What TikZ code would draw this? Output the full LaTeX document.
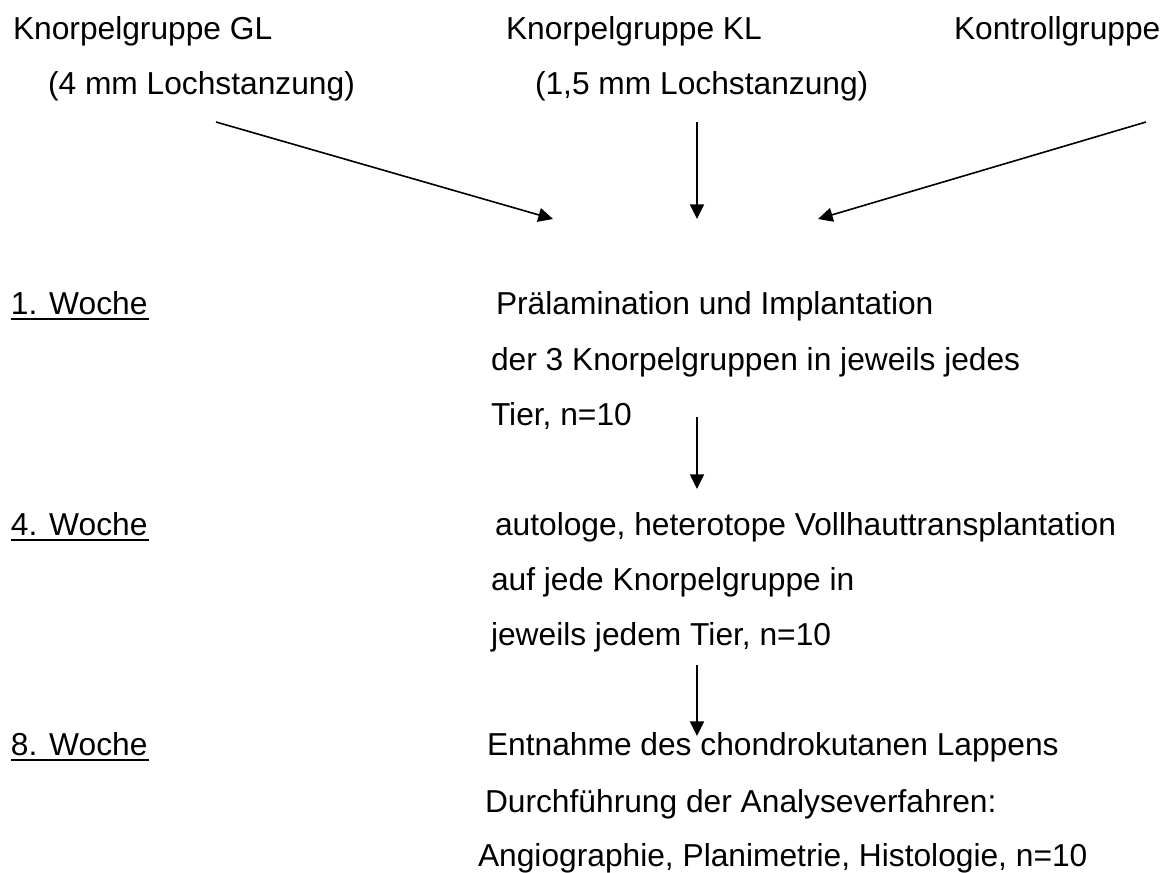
\documentclass[tikz,border=0pt]{standalone}
\usepackage{fontspec}
\setmainfont{Liberation Sans}
\usetikzlibrary{arrows.meta}
\begin{document}
\begin{tikzpicture}[x=0.75pt,y=-0.75pt,
  txt/.style={anchor=base west,inner sep=0pt,outer sep=0pt,font=\fontsize{23.8}{28}\selectfont},
  arr/.style={line width=1.2pt,-{Triangle[length=11pt,width=10.5pt]}},
  uline/.style={line width=1.5pt}]
\useasboundingbox (0,0) rectangle (1173,872);
% top groups
\node[txt] (gl)  at (13,39)  {Knorpelgruppe GL};
\node[txt] (kl)  at (506,39) {Knorpelgruppe KL};
\node[txt] (ko)  at (954,39) {Kontrollgruppe};
\node[txt] (gl2) at (48,94)  {(4 mm Lochstanzung)};
\node[txt] (kl2) at (535,94) {(1,5 mm Lochstanzung)};
% arrow coordinates
\coordinate (a1s) at (216,122);
\coordinate (a1e) at (553,219);
\coordinate (a2s) at (697,122);
\coordinate (a2e) at (697,219);
\coordinate (a3s) at (1146,122);
\coordinate (a3e) at (818,219);
\draw[arr] (a1s) -- (a1e);
\draw[arr] (a2s) -- (a2e);
\draw[arr] (a3s) -- (a3e);
% weeks
\node[txt] (w1) at (11,314) {1. Woche};
\node[txt] (w4) at (11,535) {4. Woche};
\node[txt] (w8) at (11,755) {8. Woche};
\foreach \w in {w1,w4,w8}{
  \draw[uline] ([yshift=-3.6pt]\w.base west) -- ([yshift=-3.6pt,xshift=1pt]\w.base east);
}
% step 1
\node[txt] (p1) at (496,314) {Prälamination und Implantation};
\node[txt] (p2) at (491,370) {der 3 Knorpelgruppen in jeweils jedes};
\node[txt] (p3) at (491,425) {Tier, n=10};
\coordinate (b1s) at (697,417);
\coordinate (b1e) at (697,489);
\draw[arr] (b1s) -- (b1e);
% step 2
\node[txt] (q1) at (495,535) {autologe, heterotope Vollhauttransplantation};
\node[txt] (q2) at (491,590) {auf jede Knorpelgruppe in};
\node[txt] (q3) at (491,645) {jeweils jedem Tier, n=10};
\coordinate (c1s) at (697,665);
\coordinate (c1e) at (697,736);
\draw[arr] (c1s) -- (c1e);
% step 3
\node[txt] (r1) at (487,755) {Entnahme des chondrokutanen Lappens};
\node[txt] (r2) at (485,812) {Durchführung der Analyseverfahren:};
\node[txt] (r3) at (478,866) {Angiographie, Planimetrie, Histologie, n=10};
\end{tikzpicture}
\end{document}
